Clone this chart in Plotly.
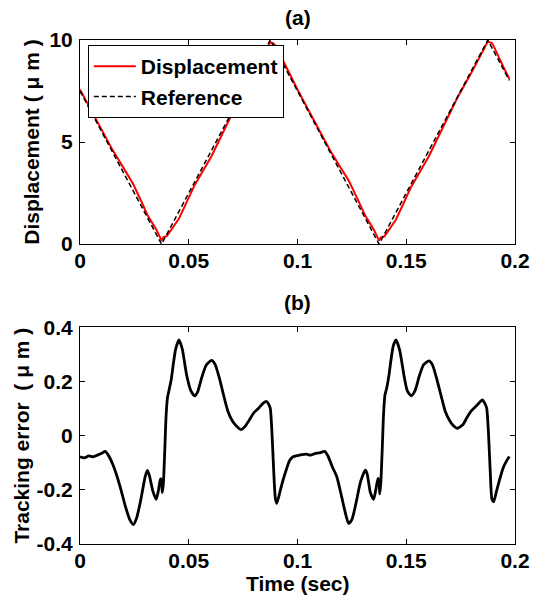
import plotly.graph_objects as go

# ---------------- data ----------------
ref_t = [0.0, 0.0375, 0.0875, 0.1375, 0.1875, 0.1974]
ref_v = [7.5, 0.0, 10.0, 0.0, 10.0, 8.02]

disp_t = [0.000, 0.005, 0.010, 0.015, 0.020, 0.0245, 0.028, 0.031, 0.035, 0.0375,
          0.0383, 0.040, 0.0455, 0.050, 0.0527, 0.0605, 0.066, 0.070, 0.074, 0.080,
          0.0858, 0.0875, 0.0890, 0.0905, 0.0935, 0.0965, 0.100, 0.105, 0.110, 0.115,
          0.120, 0.1235, 0.128, 0.1312, 0.135, 0.1375, 0.1383, 0.140, 0.1453, 0.150,
          0.1523, 0.1604, 0.166, 0.170, 0.1735, 0.180, 0.185, 0.1875, 0.1894, 0.1902,
          0.1945, 0.1974]
disp_v = [7.578, 6.578, 5.565, 4.605, 3.735, 2.93, 2.135, 1.428, 0.735, 0.17,
          0.335, 0.40, 1.25, 2.31, 2.89, 4.32, 5.55, 6.445, 7.28, 8.415,
          9.53, 9.90, 9.82, 9.65, 8.96, 8.29, 7.574, 6.568, 5.564, 4.59,
          3.715, 3.124, 2.12, 1.387, 0.735, 0.17, 0.335, 0.38, 1.207, 2.30,
          2.813, 4.304, 5.552, 6.445, 7.173, 8.408, 9.368, 9.92, 9.855, 9.70,
          8.72, 8.097]

err_t = [0.000, 0.002, 0.004, 0.006, 0.008, 0.010, 0.0115, 0.013, 0.015, 0.017,
         0.019, 0.021, 0.023, 0.0245, 0.026, 0.028, 0.030, 0.031, 0.032, 0.0335,
         0.035, 0.036, 0.037, 0.0375, 0.0378, 0.0383, 0.0390, 0.0395, 0.0402, 0.041,
         0.042, 0.043, 0.044, 0.0455, 0.047, 0.049, 0.051, 0.0527, 0.054, 0.056,
         0.058, 0.0605, 0.062, 0.064, 0.066, 0.068, 0.070, 0.072, 0.074, 0.076,
         0.078, 0.080, 0.082, 0.084, 0.0858, 0.0868, 0.0875, 0.0882, 0.0890, 0.0898,
         0.0905, 0.092, 0.0935, 0.0965, 0.098,
         0.100, 0.102, 0.104, 0.106, 0.108, 0.110, 0.1125, 0.114, 0.116, 0.118,
         0.120, 0.122, 0.1235, 0.125, 0.127, 0.129, 0.1312, 0.132, 0.1335, 0.135,
         0.136, 0.137, 0.1375, 0.1378, 0.1383, 0.1390, 0.1395, 0.1402, 0.141, 0.142,
         0.143, 0.144, 0.1453, 0.147, 0.149, 0.1505, 0.1523, 0.154, 0.156, 0.158,
         0.1604, 0.162, 0.164, 0.166, 0.168, 0.170, 0.1715, 0.1735, 0.176, 0.178,
         0.180, 0.182, 0.184, 0.185, 0.1862, 0.1870, 0.1878, 0.1886, 0.1894, 0.1902,
         0.1915, 0.193, 0.1945, 0.196, 0.1974]
err_v = [-0.078, -0.082, -0.075, -0.078, -0.072, -0.065, -0.058, -0.072, -0.105, -0.150,
         -0.205, -0.265, -0.312, -0.328, -0.305, -0.235, -0.150, -0.128, -0.150, -0.205,
         -0.235, -0.205, -0.160, -0.165, -0.210, -0.180, -0.050, 0.060, 0.140, 0.170,
         0.210, 0.270, 0.320, 0.353, 0.320, 0.225, 0.165, 0.147, 0.160, 0.215,
         0.260, 0.278, 0.265, 0.215, 0.150, 0.090, 0.055, 0.035, 0.022, 0.035,
         0.060, 0.085, 0.100, 0.118, 0.126, 0.115, 0.100, 0.020, -0.120, -0.230,
         -0.250, -0.205, -0.160, -0.090, -0.078,
         -0.074, -0.070, -0.068, -0.072, -0.066, -0.064, -0.058, -0.075, -0.115, -0.150,
         -0.215, -0.285, -0.324, -0.310, -0.245, -0.170, -0.127, -0.140, -0.210, -0.235,
         -0.200, -0.158, -0.170, -0.215, -0.175, -0.040, 0.070, 0.150, 0.175, 0.220,
         0.280, 0.330, 0.353, 0.315, 0.220, 0.165, 0.147, 0.165, 0.220, 0.262,
         0.276, 0.262, 0.210, 0.148, 0.088, 0.055, 0.038, 0.027, 0.040, 0.068,
         0.092, 0.108, 0.125, 0.132, 0.118, 0.100, 0.010, -0.130, -0.235, -0.244,
         -0.205, -0.160, -0.120, -0.095, -0.077]

x_ticks = [0, 0.05, 0.1, 0.15, 0.2]
x_labels = ["0", "0.05", "0.1", "0.15", "0.2"]
y1_ticks = [0, 5, 10]
y1_labels = ["0", "5", "10"]
y2_ticks = [-0.4, -0.2, 0, 0.2, 0.4]
y2_labels = ["-0.4", "-0.2", "0", "0.2", "0.4"]

FONT = "Liberation Sans, Arial, sans-serif"
FS = 21


def bold(size=FS):
    return dict(family=FONT, size=size, color="black", weight="bold")


fig = go.Figure()
fig.add_trace(go.Scatter(x=disp_t, y=disp_v, mode="lines", name="Displacement",
                         line=dict(color="#ff0000", width=2),
                         legendgroup="a", xaxis="x", yaxis="y"))
fig.add_trace(go.Scatter(x=ref_t, y=ref_v, mode="lines", name="Reference",
                         line=dict(color="black", width=1.5, dash="5px,3px"),
                         legendgroup="b", xaxis="x", yaxis="y"))
fig.add_trace(go.Scatter(x=err_t, y=err_v, mode="lines", showlegend=False,
                         line=dict(color="black", width=2.8, shape="spline", smoothing=0.6),
                         xaxis="x2", yaxis="y2"))

axis_common = dict(showline=True, linecolor="black", linewidth=1, mirror="ticks",
                   ticks="inside", ticklen=5, tickcolor="black", showgrid=False,
                   zeroline=False, tickfont=bold(), automargin=False)

fig.update_layout(
    width=537, height=596,
    margin=dict(l=80, r=22, t=40, b=52),
    paper_bgcolor="white", plot_bgcolor="white",
    font=bold(),
    xaxis=dict(domain=[0, 1], anchor="y", range=[0, 0.2], tickvals=x_ticks, ticktext=x_labels,
               ticklabelstandoff=-2, **axis_common),
    yaxis=dict(domain=[0.595, 1], anchor="x", range=[0, 10], tickvals=y1_ticks, ticktext=y1_labels,
               ticklabelstandoff=2,
               title=dict(text="Displacement ( μ m )", standoff=4, font=bold()),
               **axis_common),
    xaxis2=dict(domain=[0, 1], anchor="y2", range=[0, 0.2], tickvals=x_ticks, ticktext=x_labels,
                ticklabelstandoff=-2, **axis_common),
    yaxis2=dict(domain=[0, 0.430], anchor="x2", range=[-0.4, 0.4], tickvals=y2_ticks, ticktext=y2_labels,
                ticklabelstandoff=2,
                title=dict(text="Tracking error\u00a0\u00a0( μ m )", standoff=1, font=bold()),
                **axis_common),
    legend=dict(x=0.018, y=0.99, xanchor="left", yanchor="top",
                bordercolor="black", borderwidth=1, bgcolor="white",
                font=bold(), traceorder="grouped", tracegroupgap=0, itemwidth=42),
    annotations=[
        dict(text="(a)", x=0.5, y=1.0437, xref="paper", yref="paper", showarrow=False,
             xanchor="center", yanchor="middle", font=bold()),
        dict(text="(b)", x=0.5, y=0.480, xref="paper", yref="paper", showarrow=False,
             xanchor="center", yanchor="middle", font=bold()),
        dict(text="Time (sec)", x=0.5, y=-0.0774, xref="paper", yref="paper", showarrow=False,
             xanchor="center", yanchor="middle", font=bold()),
    ],
)

fig.write_html("out.html")
